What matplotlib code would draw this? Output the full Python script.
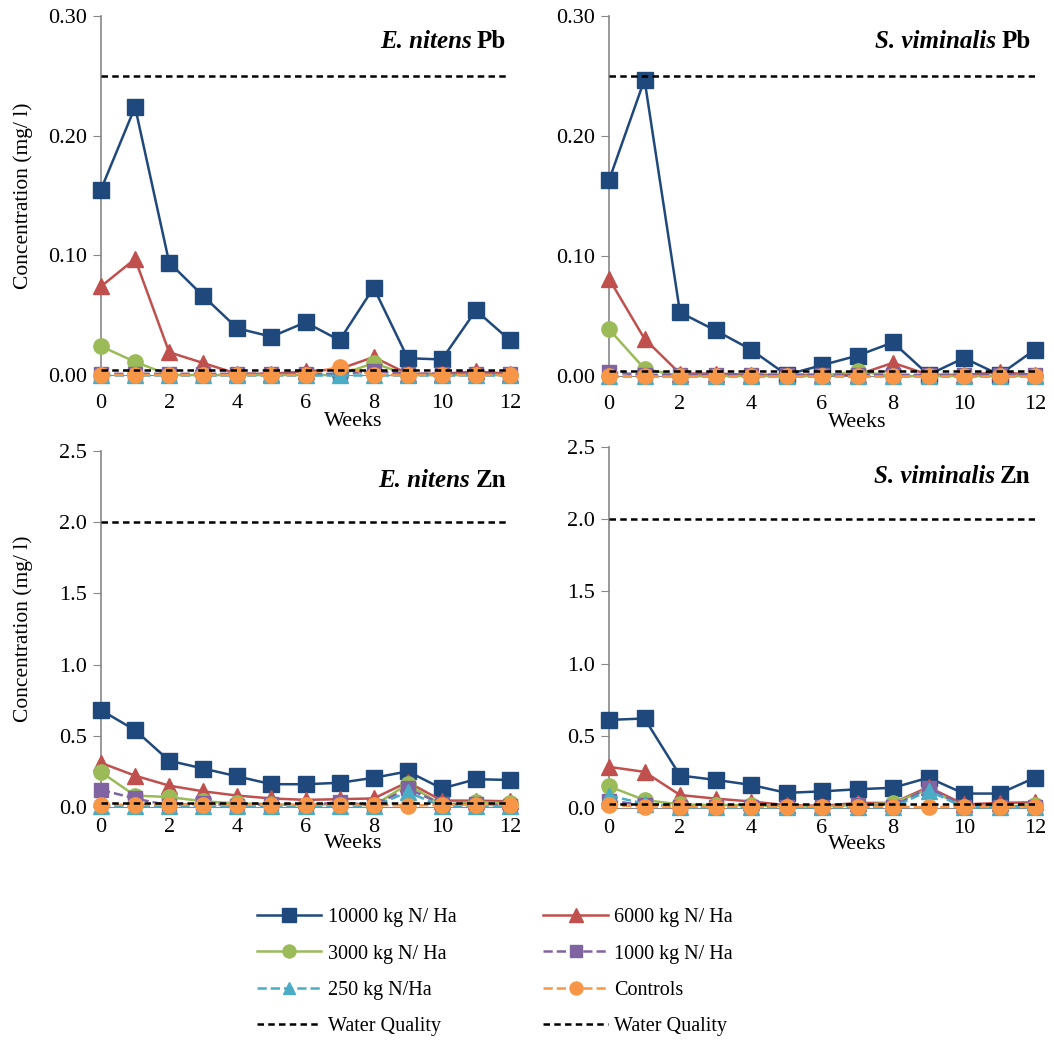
import matplotlib.pyplot as plt
import numpy as np

plt.rcParams['font.family'] = ['Liberation Serif', 'DejaVu Serif']

weeks = np.arange(13)

# E. nitens Pb
en_pb_10000 = [0.155, 0.224, 0.094, 0.066, 0.039, 0.032, 0.044, 0.029, 0.073, 0.014, 0.013, 0.054, 0.029]
en_pb_6000 = [0.074, 0.097, 0.019, 0.010, 0.001, 0.001, 0.003, 0.005, 0.015, 0.001, 0.001, 0.003, 0.001]
en_pb_3000 = [0.024, 0.011, 0.000, 0.000, 0.000, 0.000, 0.000, 0.000, 0.010, 0.000, 0.000, 0.000, 0.000]
en_pb_1000 = [0.001, 0.001, 0.001, 0.001, 0.001, 0.001, 0.001, 0.001, 0.003, 0.001, 0.001, 0.001, 0.001]
en_pb_250 = [0.000, 0.000, 0.000, 0.000, 0.000, 0.000, 0.000, 0.000, 0.000, 0.000, 0.000, 0.000, 0.000]
en_pb_ctrl = [0.000, 0.000, 0.000, 0.000, 0.000, 0.000, 0.000, 0.007, 0.000, 0.000, 0.000, 0.000, 0.000]

# S. viminalis Pb
sv_pb_10000 = [0.163, 0.247, 0.053, 0.038, 0.022, 0.001, 0.009, 0.017, 0.028, 0.001, 0.015, 0.001, 0.022]
sv_pb_6000 = [0.081, 0.031, 0.002, 0.002, 0.001, 0.001, 0.001, 0.001, 0.011, 0.001, 0.001, 0.003, 0.001]
sv_pb_3000 = [0.039, 0.006, 0.000, 0.000, 0.000, 0.000, 0.000, 0.004, 0.000, 0.000, 0.000, 0.000, 0.000]
sv_pb_1000 = [0.003, 0.001, 0.001, 0.001, 0.001, 0.001, 0.001, 0.001, 0.001, 0.001, 0.001, 0.001, 0.001]
sv_pb_250 = [0.000, 0.000, 0.000, 0.000, 0.000, 0.000, 0.000, 0.000, 0.000, 0.000, 0.000, 0.000, 0.000]
sv_pb_ctrl = [0.000, 0.000, 0.000, 0.000, 0.000, 0.000, 0.000, 0.000, 0.000, 0.000, 0.000, 0.000, 0.000]

# E. nitens Zn
en_zn_10000 = [0.68, 0.54, 0.325, 0.27, 0.215, 0.16, 0.16, 0.17, 0.205, 0.25, 0.13, 0.195, 0.19]
en_zn_6000 = [0.31, 0.22, 0.15, 0.11, 0.08, 0.06, 0.05, 0.055, 0.06, 0.175, 0.045, 0.045, 0.04]
en_zn_3000 = [0.245, 0.08, 0.07, 0.04, 0.025, 0.02, 0.01, 0.025, 0.01, 0.16, 0.015, 0.035, 0.025]
en_zn_1000 = [0.12, 0.06, 0.01, 0.025, 0.01, 0.02, 0.01, 0.035, 0.01, 0.13, 0.02, 0.02, 0.01]
en_zn_250 = [0.005, 0.005, 0.005, 0.005, 0.005, 0.005, 0.005, 0.005, 0.005, 0.105, 0.005, 0.005, 0.005]
en_zn_ctrl = [0.015, 0.015, 0.015, 0.015, 0.015, 0.015, 0.015, 0.015, 0.015, 0.01, 0.015, 0.015, 0.015]

# S. viminalis Zn
sv_zn_10000 = [0.61, 0.62, 0.225, 0.195, 0.16, 0.105, 0.115, 0.13, 0.14, 0.21, 0.10, 0.10, 0.21]
sv_zn_6000 = [0.285, 0.25, 0.09, 0.065, 0.045, 0.02, 0.015, 0.035, 0.035, 0.145, 0.025, 0.035, 0.04]
sv_zn_3000 = [0.15, 0.055, 0.025, 0.02, 0.02, 0.01, 0.01, 0.02, 0.035, 0.13, 0.01, 0.01, 0.02]
sv_zn_1000 = [0.05, 0.02, 0.01, 0.01, 0.01, 0.01, 0.01, 0.02, 0.01, 0.14, 0.01, 0.01, 0.01]
sv_zn_250 = [0.085, 0.03, 0.005, 0.005, 0.005, 0.005, 0.005, 0.005, 0.005, 0.12, 0.005, 0.005, 0.005]
sv_zn_ctrl = [0.02, 0.01, 0.01, 0.01, 0.01, 0.01, 0.01, 0.01, 0.01, 0.005, 0.01, 0.01, 0.01]

labels = ['10000 kg N/ Ha', '6000 kg N/ Ha', '3000 kg N/ Ha', '1000 kg N/ Ha', '250 kg N/Ha', 'Controls']
colors = ['#1F497D', '#C0504D', '#9BBB59', '#8064A2', '#4BACC6', '#F79646']
markers = ['s', '^', 'o', 's', '^', 'o']
styles = ['-', '-', '-', '--', '--', '--']
msizes = [11.5, 11.5, 11, 10.5, 11, 11]

pb_wq = [0.25, 0.004]
zn_wq = [2.0, 0.025]

panels = [
    ('E. nitens', 'Pb', [en_pb_10000, en_pb_6000, en_pb_3000, en_pb_1000, en_pb_250, en_pb_ctrl], pb_wq),
    ('S. viminalis', 'Pb', [sv_pb_10000, sv_pb_6000, sv_pb_3000, sv_pb_1000, sv_pb_250, sv_pb_ctrl], pb_wq),
    ('E. nitens', 'Zn', [en_zn_10000, en_zn_6000, en_zn_3000, en_zn_1000, en_zn_250, en_zn_ctrl], zn_wq),
    ('S. viminalis', 'Zn', [sv_zn_10000, sv_zn_6000, sv_zn_3000, sv_zn_1000, sv_zn_250, sv_zn_ctrl], zn_wq),
]

W, H = 1054, 1041
# axes boxes in pixels: x0, x1, ytop, ybottom
boxes = [(101, 510, 16, 375), (609, 1035, 16, 376), (101, 510, 451, 807), (609, 1035, 447, 808)]
weeks_x = [7.4, 7.0, 7.4, 7.0]
weeks_off = [37, 37, 27, 27]
title_y = [0.962, 0.962, 0.95, 0.95]

fig = plt.figure(figsize=(W / 100, H / 100), dpi=100)
axes = []
handles = []
for i, (sp, metal, series, wq) in enumerate(panels):
    x0, x1, yt, yb = boxes[i]
    ax = fig.add_axes([x0 / W, 1 - yb / H, (x1 - x0) / W, (yb - yt) / H])
    axes.append(ax)
    for j, ys in enumerate(series):
        h, = ax.plot(weeks, ys, color=colors[j], linestyle=styles[j], marker=markers[j],
                     markersize=msizes[j], linewidth=1.8, clip_on=False, zorder=3 + j,
                     label=labels[j])
        if i == 0:
            handles.append(h)
    for v in wq:
        h, = ax.plot([0, 12], [v, v], color='black', linestyle='--', linewidth=1.8,
                     dashes=(2.6, 1.7), zorder=10, label='Water Quality')
        if i == 0:
            handles.append(h)
    ax.set_xlim(0, 12)
    if metal == 'Pb':
        ax.set_ylim(0, 0.30)
        ax.set_yticks([0, 0.10, 0.20, 0.30])
        ax.set_yticklabels(['0.00', '0.10', '0.20', '0.30'])
    else:
        ax.set_ylim(0, 2.5)
        ax.set_yticks([0, 0.5, 1.0, 1.5, 2.0, 2.5])
        ax.set_yticklabels(['0.0', '0.5', '1.0', '1.5', '2.0', '2.5'])
    ax.set_xticks([0, 2, 4, 6, 8, 10, 12])
    for s in ['top', 'right']:
        ax.spines[s].set_visible(False)
    ax.spines['left'].set_color('#888888')
    ax.spines['bottom'].set_color('#888888')
    ax.spines['left'].set_linewidth(1.2)
    ax.tick_params(axis='y', direction='out', length=6, color='#888888', labelsize=16, pad=4)
    ax.tick_params(axis='x', length=0, labelsize=16, pad=14 if i < 2 else 8)
    ax.patch.set_alpha(0)
    ax.text(weeks_x[i], -weeks_off[i] / (yb - yt), 'Weeks', transform=ax.get_xaxis_transform(),
            ha='center', va='top', fontsize=16)
    if i % 2 == 0:
        ax.set_ylabel('Concentration (mg/ l)', fontsize=15.5)
        ax.yaxis.set_label_coords(-68 / 409, 0.5)

# titles: italic species + bold metal, right aligned together
fig.canvas.draw()
r = fig.canvas.get_renderer()
for i, ax in enumerate(axes):
    sp, metal = panels[i][0], panels[i][1]
    tm = ax.text(0.99, title_y[i], metal, transform=ax.transAxes, ha='right', va='top',
                 fontsize=18, fontweight='bold')
    bb = tm.get_window_extent(renderer=r)
    xl = ax.transAxes.inverted().transform((bb.x0, bb.y0))[0]
    ax.text(xl - 0.012, title_y[i], sp, transform=ax.transAxes, ha='right', va='top',
            fontsize=18, fontweight='bold', fontstyle='italic')

order = [0, 2, 4, 6, 1, 3, 5, 7]
fig.legend([handles[k] for k in order], [handles[k].get_label() for k in order],
           loc='upper left', bbox_to_anchor=(257 / W, 1 - 908 / H), ncol=2,
           frameon=False, fontsize=14.5, handlelength=3.2, handletextpad=0.33,
           columnspacing=4.3, labelspacing=0.86, borderpad=0, borderaxespad=0,
           markerscale=0.85)

fig.savefig('out.png', dpi=100)
